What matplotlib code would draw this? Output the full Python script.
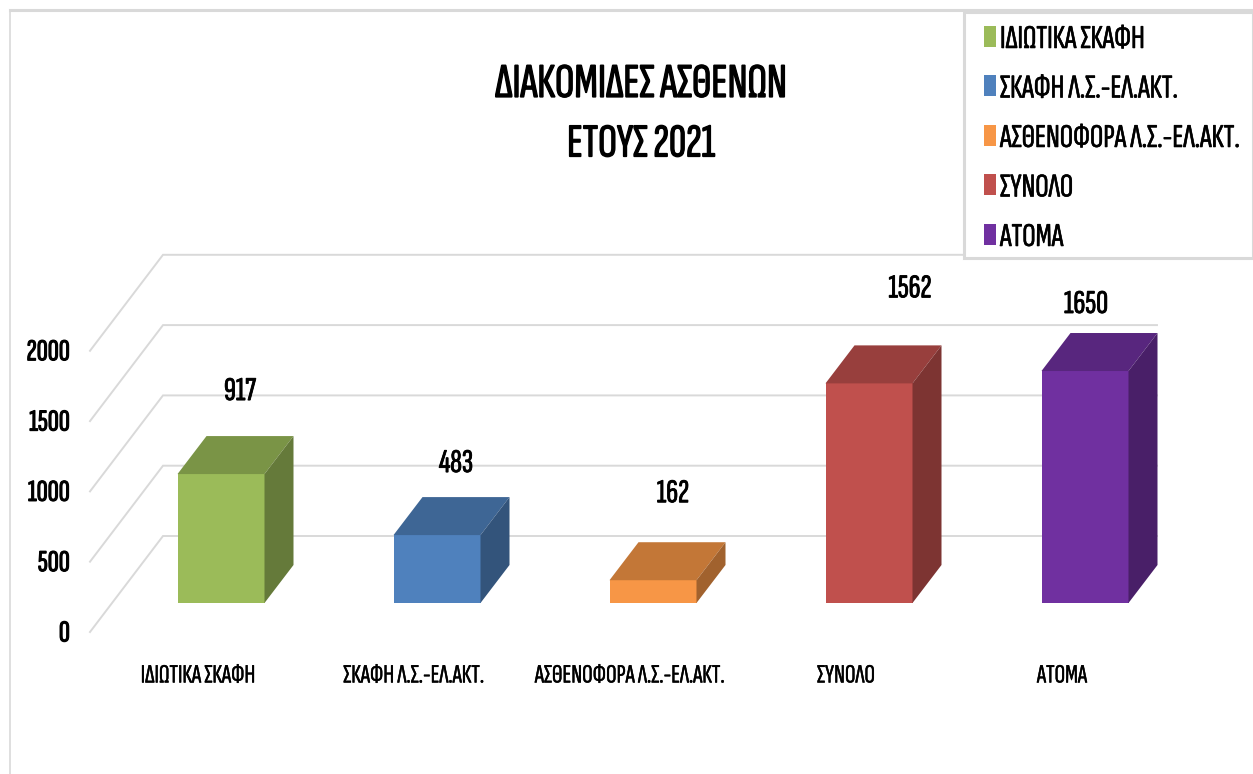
import matplotlib
matplotlib.use("Agg")
import matplotlib.pyplot as plt
import matplotlib.patheffects as pe
from matplotlib.patches import Polygon, Patch, Rectangle
from matplotlib.colors import to_rgb

categories = ["ΙΔΙΩΤΙΚΑ ΣΚΑΦΗ", "ΣΚΑΦΗ Λ.Σ.-ΕΛ.ΑΚΤ.", "ΑΣΘΕΝΟΦΟΡΑ Λ.Σ.-ΕΛ.ΑΚΤ.", "ΣΥΝΟΛΟ", "ΑΤΟΜΑ"]
values = [917, 483, 162, 1562, 1650]
colors = ["#9BBB59", "#4F81BD", "#F79646", "#C0504D", "#7030A0"]
yticks = [0, 500, 1000, 1500, 2000]
title_lines = ["ΔΙΑΚΟΜΙΔΕΣ ΑΣΘΕΝΩΝ", "ΕΤΟΥΣ 2021"]
label_shift_x = [19, 19, 20, 41, 1]
label_shift_y = [84, 73, 88, 96, 68]

W, H = 1253, 774
PX_CAT = 216.0
PX_VAL = 0.1406
plt.rcParams["font.family"] = ["Sofia Sans Extra Condensed", "Open Sans Condensed", "Roboto Condensed", "Liberation Sans", "DejaVu Sans"]

fig = plt.figure(figsize=(W / 100, H / 100), dpi=100, facecolor="white")
ax = fig.add_axes([0, 0, 1, 1])
ax.set_xlim((0 - 221) / PX_CAT, (W - 221) / PX_CAT)
ax.set_ylim((603 - H) / PX_VAL, 603 / PX_VAL)
ax.axis("off")

dxu = lambda p: p / PX_CAT
dyu = lambda p: p / PX_VAL
xpx = lambda p: (p - 221) / PX_CAT
bold = lambda w: [pe.withStroke(linewidth=w, foreground="black")]

# outer frame of the chart area
GREY = "#D9D9D9"
ax.plot([xpx(9.5)] * 2, [dyu(603 - H), dyu(603 - 10)], color=GREY, lw=1.2, zorder=1)
ax.plot([xpx(9.5), xpx(W)], [dyu(603 - 10)] * 2, color=GREY, lw=2.2, zorder=1)

# gridlines: left wall diagonal + back wall
for v in yticks:
    front = v - dyu(631 - 603)
    back = v + dyu(603 - 536)
    ax.plot([xpx(90), xpx(163), xpx(1157)], [front - dyu(1), back, back],
            color=GREY, lw=1.4, zorder=1, solid_joinstyle="miter")
    ax.annotate(str(v), (xpx(70), front), textcoords="offset pixels", xytext=(0, -3),
                ha="right", va="center", fontsize=22, color="black", path_effects=bold(0.8))

# bars
bw = 87
ddx, ddy = dxu(29), dyu(38)
hw = dxu(bw) / 2
shade = lambda c, f: tuple(x * f for x in to_rgb(c))
ax.bar(range(len(values)), values, width=dxu(bw), color=colors, zorder=3)
for i, (v, c) in enumerate(zip(values, colors)):
    l, r = i - hw, i + hw
    ax.add_patch(Polygon([(l, v), (r, v), (r + ddx, v + ddy), (l + ddx, v + ddy)],
                         facecolor=shade(c, 0.79), edgecolor="none", zorder=3))
    ax.add_patch(Polygon([(r, 0), (r + ddx, ddy), (r + ddx, v + ddy), (r, v)],
                         facecolor=shade(c, 0.65), edgecolor="none", zorder=3))
    ax.annotate(str(v), (i, v), textcoords="offset pixels",
                xytext=(label_shift_x[i], label_shift_y[i] - 1),
                ha="center", va="center", fontsize=24, color="black", zorder=5,
                path_effects=bold(0.6))
    ax.annotate(categories[i], (i, 0), textcoords="offset pixels", xytext=(-23, -73),
                ha="center", va="center", fontsize=19, color="black", zorder=5,
                path_effects=bold(0.3))

# title
ax.text(xpx(641), dyu(603 - 85), title_lines[0], ha="center", va="center",
        fontsize=35, color="black", path_effects=bold(0.9))
ax.text(xpx(641), dyu(603 - 145), title_lines[1], ha="center", va="center",
        fontsize=34, color="black", path_effects=bold(0.9))

# legend box
ax.add_patch(Rectangle((xpx(964), dyu(603 - 258)), dxu(W - 964), dyu(258 - 12),
                       facecolor="white", edgecolor=GREY, lw=2.2, zorder=6))
handles = [Patch(facecolor=c, edgecolor="none") for c in colors]
leg = ax.legend(handles, categories, loc="upper left",
                bbox_to_anchor=(984 / W, 1 - 24 / H), bbox_transform=fig.transFigure,
                frameon=False, fontsize=24, labelspacing=0.585, handlelength=0.36,
                handleheight=0.6, handletextpad=0.12, borderpad=0, borderaxespad=0)
leg.set_zorder(7)
for t in leg.get_texts():
    t.set_path_effects(bold(0.4))

fig.savefig("out.png", dpi=100, facecolor="white")
